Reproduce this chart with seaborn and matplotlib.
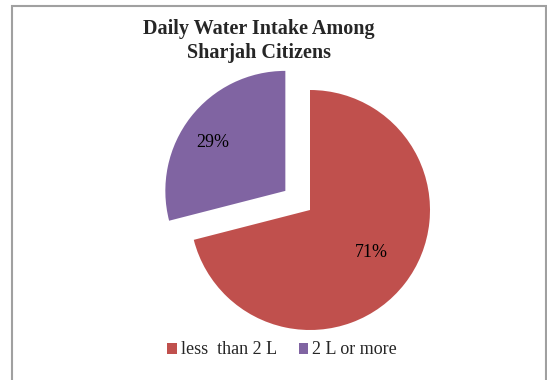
import matplotlib
matplotlib.use("Agg")
import matplotlib.pyplot as plt
import seaborn as sns
import numpy as np
from matplotlib.patches import Rectangle

categories = ["less  than 2 L", "2 L or more"]
values = [71, 29]
colors = ["#C0504D", "#8064A2"]
title = "Daily Water Intake Among\nSharjah Citizens"

sns.set_theme(style="white")
plt.rcParams["font.family"] = ["Liberation Serif", "DejaVu Serif"]

W, H = 547, 380
fig = plt.figure(figsize=(W / 100, H / 100), dpi=100)
ax = fig.add_axes([0, 0, 1, 1])

cx, cy, r = 310, 210, 120
wedges, texts, autotexts = ax.pie(
    values,
    colors=colors,
    startangle=90,
    counterclock=False,
    explode=[0, 0.26],
    autopct="%d%%",
    pctdistance=0.68,
    wedgeprops=dict(linewidth=0),
    textprops=dict(fontsize=13, color="black"),
    frame=False,
)
# label distance / angle tweak per slice
for w, t, d, da in zip(wedges, autotexts, [0.62, 0.73], [3, 4]):
    th = np.deg2rad((w.theta1 + w.theta2) / 2 + da)
    x0, y0 = w.center
    t.set_position((x0 + d * w.r * np.cos(th), y0 + d * w.r * np.sin(th)))

ax.set_aspect("auto")
ax.set_xlim(-cx / r, (W - cx) / r)
ax.set_ylim(-(H - cy) / r, cy / r)
ax.axis("off")

fig.text(259 / W, 1 - 41 / H, title, ha="center", va="center",
         fontsize=14.5, fontweight="bold", linespacing=1.3)

fig.legend(wedges, categories, loc="center", bbox_to_anchor=(282 / W, 1 - 350 / H),
           ncol=2, frameon=False, fontsize=13, handlelength=0.55, handleheight=0.55,
           handletextpad=0.2, columnspacing=1.2)

fig.patches.append(Rectangle((12 / W, -0.05), (546 - 12) / W, (H - 6) / H + 0.05,
                             transform=fig.transFigure, fill=False,
                             edgecolor="#A0A0A0", linewidth=1.5))

fig.savefig("out.png", dpi=100)
